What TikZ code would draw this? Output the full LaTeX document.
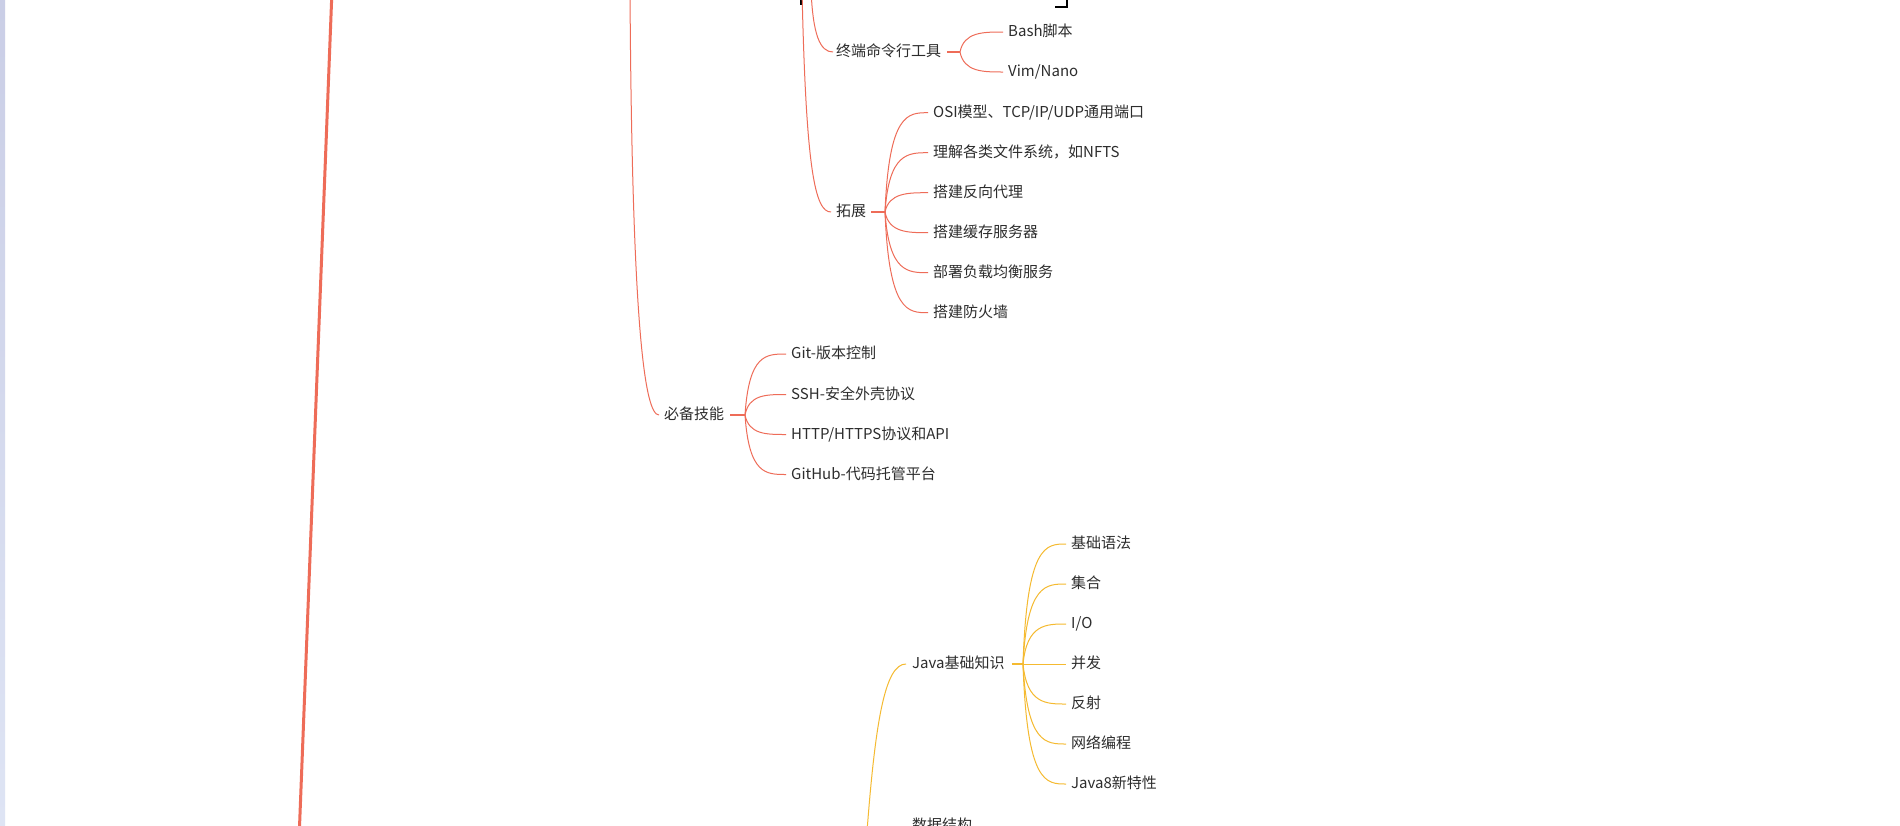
\documentclass[tikz,border=0pt]{standalone}
\usepackage{fontspec}
\setmainfont{Noto Sans CJK SC}
\usetikzlibrary{calc}
\definecolor{branchred}{RGB}{238,108,88}
\definecolor{branchyellow}{RGB}{245,186,48}
\definecolor{leafgray}{RGB}{45,45,45}
\definecolor{edgetop}{RGB}{202,206,230}
\definecolor{edgebot}{RGB}{222,228,244}

\begin{document}
\begin{tikzpicture}[x=1pt, y=-1pt,
  every node/.style={font=\fontsize{15}{18}\selectfont, text=leafgray, inner sep=0pt,
                     text height=1.1em, text depth=0.12em, anchor=west},
  twig/.style={line width=1pt},
  stub/.style={line width=2pt},
  trunk/.style={line width=3pt, draw=branchred}
]
\useasboundingbox (0,0) rectangle (1900,825);
\clip (0,0) rectangle (1900,825);
\fill[white] (0,0) rectangle (1900,825);
\shade[top color=edgetop, bottom color=edgebot] (0,0) rectangle (5,825);

% main trunk and branches coming from above
\coordinate (trunkTop) at (332,-10);
\coordinate (trunkBot) at (299,840);
\draw[trunk] (trunkTop) -- (trunkBot);
\coordinate (sysTop) at (630,-10);
\coordinate (linuxA) at (811,-10);
\coordinate (linuxB) at (802,-10);
\coordinate (javaRoot) at (866,845);

% marks of the cut-off frame
\draw[black, line width=1.5pt] (801,-2) -- (801,5);
\draw[black, line width=1.5pt] (1055,7) -- (1067,7) -- (1067,-2);

% terminal tools
\node (zhongduan) at (836,52) {终端命令行工具};
\node (bash) at (1008,32) {Bash脚本};
\node (vim)  at (1008,72) {Vim/Nano};
\coordinate (zdHub) at (960,52);

% extension
\node (tuozhan) at (836,212) {拓展};
\node (osi)   at (933,112.7) {OSI模型、TCP/IP/UDP通用端口};
\node (fs)    at (933,152.7) {理解各类文件系统，如NFTS};
\node (proxy) at (933,192.7) {搭建反向代理};
\node (cache) at (933,232.7) {搭建缓存服务器};
\node (lb)    at (933,272.7) {部署负载均衡服务};
\node (fw)    at (933,312.7) {搭建防火墙};
\coordinate (tzHub) at (885,212);

% must-have skills
\node (jineng) at (664,415) {必备技能};
\node (git)    at (791,354)   {Git-版本控制};
\node (ssh)    at (791,394.5) {SSH-安全外壳协议};
\node (http)   at (791,434.5) {HTTP/HTTPS协议和API};
\node (github) at (791,474.5) {GitHub-代码托管平台};
\coordinate (jnHub) at (745,415);

% java basics
\node (javabase) at (912,664) {Java基础知识};
\node (syntax) at (1071,544) {基础语法};
\node (coll)   at (1071,584) {集合};
\node (io)     at (1071,624) {I/O};
\node (conc)   at (1071,664) {并发};
\node (refl)   at (1071,704) {反射};
\node (net)    at (1071,744) {网络编程};
\node (jdk8)   at (1071,784) {Java8新特性};
\coordinate (jvHub) at (1023,664);
\node (shuju) at (912,826) {数据结构};

% red connectors
\begin{scope}[draw=branchred]
\draw[twig] (sysTop) .. controls (632,330) and (645,415) .. ($(jineng.west)+(-5,0)$);
\draw[twig] (linuxA) .. controls (813,35) and (820,52) .. ($(zhongduan.west)+(-3,0)$);
\draw[twig] (linuxB) .. controls (806,170) and (815,212) .. ($(tuozhan.west)+(-5,0)$);
\draw[stub] ($(zhongduan.east)+(6,0)$) -- (zdHub);
\draw[stub] ($(tuozhan.east)+(5,0)$) -- (tzHub);
\draw[stub] ($(jineng.east)+(6,0)$) -- (jnHub);
\foreach \leaf in {bash,vim}
  \draw[twig] (zdHub) .. controls ($(zdHub |- \leaf.west)+(4,0)$) and ($(\leaf.west)+(-25,0)$) .. ($(\leaf.west)+(-5,0)$);
\foreach \leaf in {osi,fs,proxy,cache,lb,fw}
  \draw[twig] (tzHub) .. controls ($(tzHub |- \leaf.west)+(4,0)$) and ($(\leaf.west)+(-25,0)$) .. ($(\leaf.west)+(-5,0)$);
\foreach \leaf in {git,ssh,http,github}
  \draw[twig] (jnHub) .. controls ($(jnHub |- \leaf.west)+(4,0)$) and ($(\leaf.west)+(-25,0)$) .. ($(\leaf.west)+(-5,0)$);
\end{scope}

% yellow connectors
\begin{scope}[draw=branchyellow]
\draw[twig] (javaRoot) .. controls (875,720) and (885,664) .. ($(javabase.west)+(-6,0)$);
\draw[stub] ($(javabase.east)+(7,0)$) -- (jvHub);
\foreach \leaf in {syntax,coll,io,conc,refl,net,jdk8}
  \draw[twig] (jvHub) .. controls ($(jvHub |- \leaf.west)+(4,0)$) and ($(\leaf.west)+(-25,0)$) .. ($(\leaf.west)+(-5,0)$);
\end{scope}
\end{tikzpicture}
\end{document}
